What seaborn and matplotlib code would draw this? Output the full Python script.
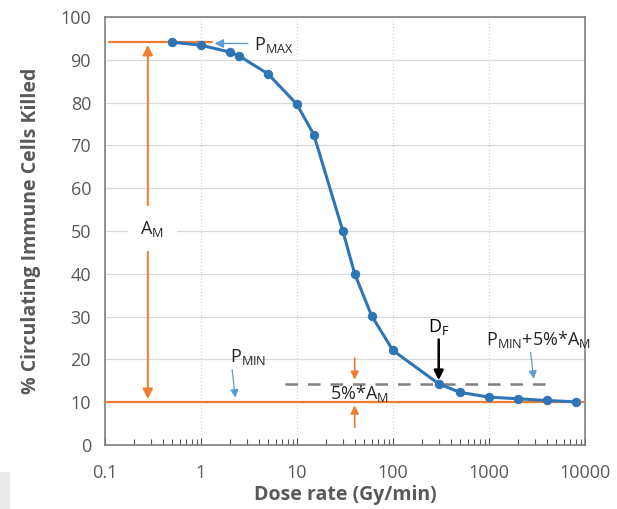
import numpy as np
import pandas as pd
import matplotlib
matplotlib.use("Agg")
import matplotlib.pyplot as plt
import seaborn as sns

# dose rate (Gy/min) and % killed
dose = [0.5, 1, 2, 2.5, 5, 10, 15, 30, 40, 60, 100, 300, 500, 1000, 2000, 4000, 8000]
killed = [94.1, 93.4, 91.8, 90.9, 86.7, 79.6, 72.5, 50.1, 40.0, 30.2, 22.1, 14.3, 12.3, 11.2, 10.8, 10.4, 10.1]
p_max = 94.1
p_min = 10.1
p_thr = 14.3
d_f = 300
xticks = [0.1, 1, 10, 100, 1000, 10000]
xlabels = ["0.1", "1", "10", "100", "1000", "10000"]
yticks = list(range(0, 101, 10))

sns.set_theme(style="white")
plt.rcParams["font.family"] = ["Open Sans", "DejaVu Sans"]
plt.rcParams["mathtext.fontset"] = "custom"
plt.rcParams["mathtext.rm"] = "Open Sans"

blue = "#2E75B6"
orange = "#ED7D31"
lblue = "#5B9BD5"
grey = "#595959"

fig = plt.figure(figsize=(6.17, 5.09), dpi=100)
ax = fig.add_axes([0.170, 0.1257, 0.778, 0.841])

# small grey patch in the lower left corner of the original image
fig.patches.append(matplotlib.patches.Rectangle((0, 0), 10 / 617, 37 / 509, transform=fig.transFigure,
                                                facecolor="#EBEBEB", edgecolor="none"))

df = pd.DataFrame({"dose": dose, "killed": killed})
sns.lineplot(data=df, x="dose", y="killed", ax=ax, color=blue, lw=2.2,
             marker="o", markersize=6, markeredgecolor=blue, zorder=5)

ax.set_xscale("log")
ax.set_xlim(0.1, 10000)
ax.set_ylim(0, 100)
ax.set_xticks(xticks)
ax.set_xticklabels(xlabels)
ax.set_yticks(yticks)
ax.xaxis.set_minor_locator(matplotlib.ticker.LogLocator(base=10, subs=np.arange(2, 10)))
ax.xaxis.set_minor_formatter(matplotlib.ticker.NullFormatter())
ax.tick_params(axis="x", which="minor", direction="in", length=4, width=0.8, color=grey, bottom=True)
ax.tick_params(axis="x", which="major", direction="in", length=5, width=0.8, color=grey, bottom=True)
ax.tick_params(axis="both", labelsize=13, labelcolor=grey)
ax.tick_params(axis="x", pad=14)
ax.tick_params(axis="y", length=0, pad=10)

ax.grid(axis="y", color="#D9D9D9", lw=0.9)
ax.grid(axis="x", which="major", color="#D9D9D9", lw=0.9, ls=":")
for s in ax.spines.values():
    s.set_color("#7F7F7F")
    s.set_linewidth(1.2)

ax.set_xlabel("Dose rate (Gy/min)", fontsize=14, fontweight="bold", color=grey, labelpad=2)
ax.set_ylabel("% Circulating Immune Cells Killed", fontsize=14, fontweight="bold", color=grey, labelpad=14)

# Pmax and Pmin lines
ax.plot([0.11, 1.3], [p_max, p_max], color=orange, lw=1.6, zorder=3)
ax.axhline(p_min, color=orange, lw=1.6, zorder=3)
# threshold dashed line
ax.plot([7.5, 4300], [p_thr, p_thr], color="#7F7F7F", lw=1.8, ls=(0, (5, 4)), zorder=2)

# A_M double arrow
ax.annotate("", xy=(0.28, p_max), xytext=(0.28, 50.5),
            arrowprops=dict(arrowstyle="-|>", color=orange, lw=1.4, mutation_scale=15))
ax.annotate("", xy=(0.28, p_min), xytext=(0.28, 50.5),
            arrowprops=dict(arrowstyle="-|>", color=orange, lw=1.4, mutation_scale=15))
ax.text(0.31, 50.5, r"A$_\mathrm{M}$", fontsize=13, color="#262626", ha="center", va="center",
        bbox=dict(facecolor="white", edgecolor="none", boxstyle="square,pad=0.7"), zorder=4)

# PMAX label
ax.text(3.6, 93.4, r"P$_\mathrm{MAX}$", fontsize=13, color="#262626", ha="left", va="center")
ax.annotate("", xy=(1.3, 93.8), xytext=(3.3, 93.8),
            arrowprops=dict(arrowstyle="-|>", color=lblue, lw=1, mutation_scale=13))

# PMIN label
ax.text(2.0, 20.6, r"P$_\mathrm{MIN}$", fontsize=13, color="#262626", ha="left", va="center")
ax.annotate("", xy=(2.3, 10.4), xytext=(2.1, 18.3),
            arrowprops=dict(arrowstyle="-|>", color=lblue, lw=0.9, mutation_scale=12))

# 5% A_M arrows
ax.annotate("", xy=(40, p_thr + 0.3), xytext=(40, 21),
            arrowprops=dict(arrowstyle="-|>", color=orange, lw=1.2, mutation_scale=12))
ax.annotate("", xy=(40, p_min - 0.2), xytext=(40, 3.5),
            arrowprops=dict(arrowstyle="-|>", color=orange, lw=1.2, mutation_scale=12))
ax.text(45, 12.0, r"5%*A$_\mathrm{M}$", fontsize=13, color="#262626", ha="center", va="center")

# D_F
ax.text(d_f, 27.6, r"D$_\mathrm{F}$", fontsize=13, color="black", ha="center", va="center")
ax.annotate("", xy=(d_f, p_thr + 0.2), xytext=(d_f, 25.3),
            arrowprops=dict(arrowstyle="-|>", color="black", lw=1.8, mutation_scale=14))

# PMIN+5%*AM
ax.text(3300, 24.6, r"P$_\mathrm{MIN}$+5%*A$_\mathrm{M}$", fontsize=13, color="#262626", ha="center", va="center")
ax.annotate("", xy=(2950, p_thr + 0.5), xytext=(2700, 22.3),
            arrowprops=dict(arrowstyle="-|>", color=lblue, lw=0.9, mutation_scale=12))

fig.savefig("out.png", dpi=100)
